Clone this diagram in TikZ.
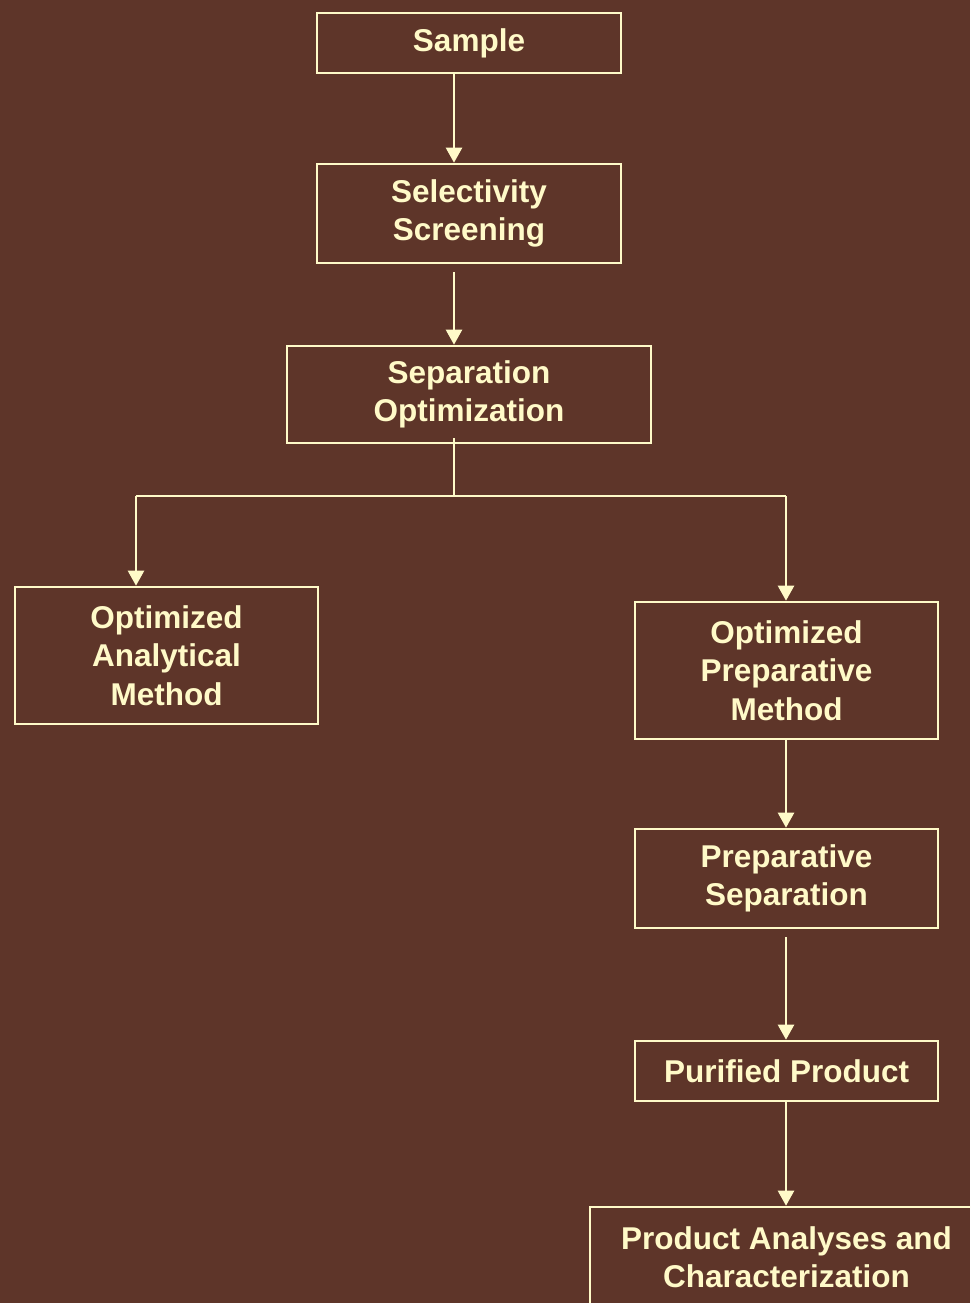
\documentclass[tikz,border=0pt]{standalone}
\usepackage{fontspec}
\setmainfont{Liberation Sans}
\usetikzlibrary{arrows.meta}
\definecolor{bgbrown}{RGB}{94,53,41}
\definecolor{cream}{RGB}{255,250,200}
\begin{document}
\begin{tikzpicture}[x=1pt,y=-1pt,
  box/.style={draw=cream, line width=2.6pt, text=cream, inner sep=0pt, align=center,
    font=\fontsize{31.5}{38.5}\selectfont\bfseries},
  conn/.style={draw=cream, line width=2.4pt},
  arr/.style={conn, -{Triangle[width=16pt,length=15pt]}}]
\useasboundingbox (0,0) rectangle (970,1303);
\clip (0,0) rectangle (970,1303);
\fill[bgbrown] (0,0) rectangle (970,1303);
\node[box, minimum width=304pt, minimum height=60pt] (sample) at (469,43) {Sample};
\node[box, minimum width=304pt, minimum height=99pt] (select) at (469,213.5) {Selectivity\\Screening};
\node[box, minimum width=364pt, minimum height=97pt] (sepopt) at (469,394.5) {Separation\\Optimization};
\node[box, minimum width=303pt, minimum height=137pt] (anal) at (166.5,655.5) {Optimized\\Analytical\\Method};
\node[box, minimum width=303pt, minimum height=137pt] (prep) at (786.5,670.5) {Optimized\\Preparative\\Method};
\node[box, minimum width=303pt, minimum height=99pt] (prepsep) at (786.5,878.5) {Preparative\\Separation};
\node[box, minimum width=303pt, minimum height=60pt] (pure) at (786.5,1071) {Purified Product};
\node[box, minimum width=393pt, minimum height=100pt] (prod) at (786.5,1257) {Product Analyses and\\Characterization};
\coordinate (mx) at (454,0);
\coordinate (lx) at (136,0);
\coordinate (rx) at (786,0);
\coordinate (split) at (454,496);
\draw[arr] (sample.south -| mx) -- (select.north -| mx);
\draw[arr, shorten <=8pt] (select.south -| mx) -- (sepopt.north -| mx);
\draw[conn, shorten <=-6pt] (sepopt.south -| mx) -- (split);
\draw[conn] (split -| lx) -- (split -| rx);
\draw[arr] (split -| lx) -- (anal.north -| lx);
\draw[arr] (split -| rx) -- (prep.north -| rx);
\draw[arr] (prep.south -| rx) -- (prepsep.north -| rx);
\draw[arr, shorten <=8pt] (prepsep.south -| rx) -- (pure.north -| rx);
\draw[arr] (pure.south -| rx) -- (prod.north -| rx);
\end{tikzpicture}
\end{document}
